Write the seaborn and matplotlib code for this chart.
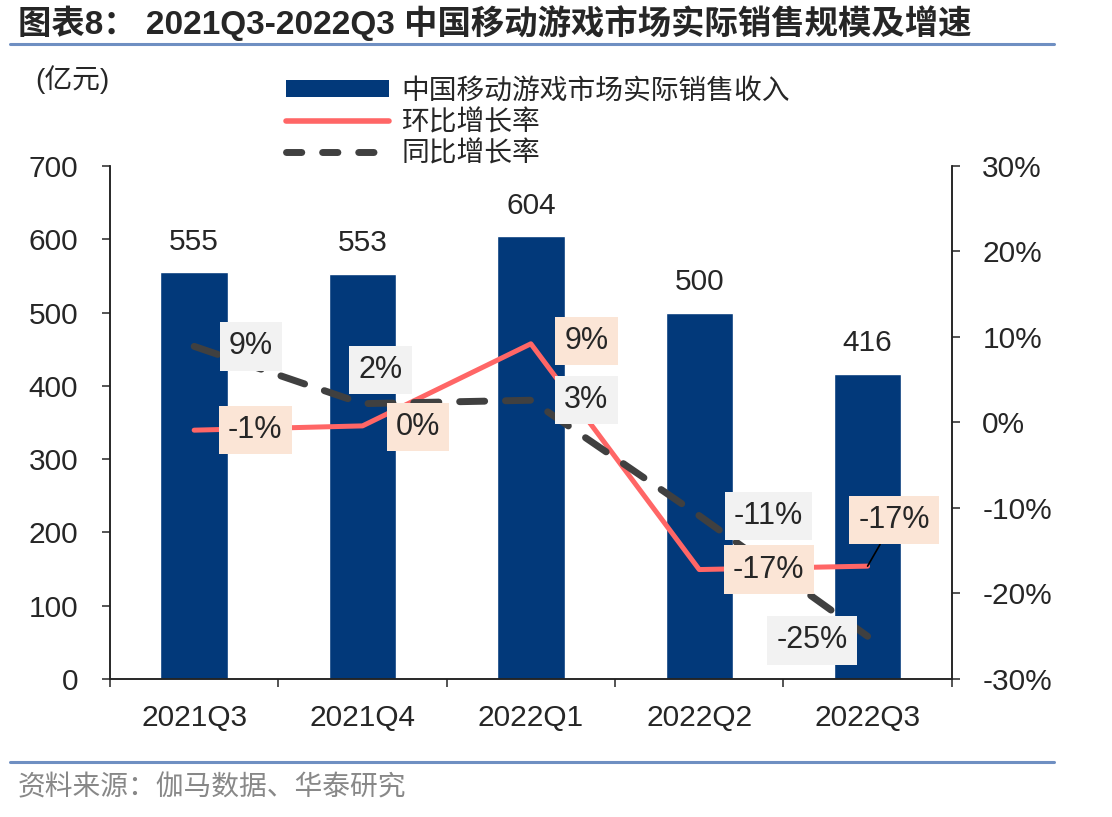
import numpy as np
import pandas as pd
import seaborn as sns
import matplotlib.pyplot as plt
from matplotlib.patches import Patch
from matplotlib.lines import Line2D

quarters = ["2021Q3", "2021Q4", "2022Q1", "2022Q2", "2022Q3"]
revenue = [555, 553, 604, 500, 416]
qoq = [-0.9, -0.4, 9.2, -17.2, -16.8]
yoy = [8.9, 2.2, 2.6, -10.9, -25.0]
qoq_labels = ["-1%", "0%", "9%", "-17%", "-17%"]
yoy_labels = ["9%", "2%", "3%", "-11%", "-25%"]

# label box offsets in points (dx, dy) from the data point
qoq_offsets = [(44, 0), (40, -1), (40, 2), (50, 0), (19, 33)]
yoy_offsets = [(41, 0), (13, 24), (40, 0), (50, 0), (-40, -3)]

bar_color = "#02397A"
red = "#FF6666"
dark = "#404040"

sns.set_theme(style="ticks")
plt.rcParams["font.family"] = ["Liberation Sans", "Noto Sans CJK SC"]
plt.rcParams["axes.linewidth"] = 1.1
plt.rcParams["axes.edgecolor"] = "#222222"

fig = plt.figure(figsize=(11.12, 8.17), dpi=100)
ax = fig.add_axes([0.0989, 0.1689, 0.757, 0.628])

df = pd.DataFrame({"quarter": quarters, "revenue": revenue})
sns.barplot(data=df, x="quarter", y="revenue", color=bar_color, width=0.4,
            saturation=1, ax=ax)
ax.bar_label(ax.containers[0], labels=[str(v) for v in revenue],
             padding=12, fontsize=21.5)

ax.set_ylim(0, 700)
ax.set_yticks(range(0, 701, 100))
ax.set_xlim(-0.5, 4.5)
ax.set_xlabel("")
ax.set_ylabel("")
ax.tick_params(axis="y", labelsize=21.5, length=6, width=1.1, pad=17)
ax.tick_params(axis="x", which="major", labelsize=21.5, length=0, pad=18)
ax.set_xticks(np.arange(-0.5, 5, 1), minor=True)
ax.tick_params(axis="x", which="minor", length=6, width=1.1)
ax.spines["top"].set_visible(False)

ax2 = ax.twinx()
pos = np.arange(len(quarters))
sns.lineplot(x=pos, y=qoq, color=red, lw=3.6, ax=ax2, solid_capstyle="round")
sns.lineplot(x=pos, y=yoy, color=dark, lw=5, ax=ax2)
ax2.lines[-1].set_dashes([3.6, 3.0])
ax2.lines[-1].set_dash_capstyle("round")
ax2.set_ylim(-30, 30)
ax2.set_yticks(range(-30, 31, 10))
ax2.set_yticklabels([f"{v}%" for v in range(-30, 31, 10)])
ax2.tick_params(axis="y", labelsize=21.5, length=6, width=1.1, pad=16)
ax2.spines["top"].set_visible(False)
ax2.set_xlim(-0.5, 4.5)

for i in range(len(quarters)):
    ax2.annotate(yoy_labels[i], (pos[i], yoy[i]), xytext=yoy_offsets[i],
                 textcoords="offset points", ha="center", va="center",
                 fontsize=22, zorder=10,
                 bbox=dict(boxstyle="square,pad=0.3", fc="#F2F2F2", ec="none"))
    arrow = None
    if i == 4:
        arrow = dict(arrowstyle="-", color="black", lw=1.2, shrinkA=0, shrinkB=0)
    ax2.annotate(qoq_labels[i], (pos[i], qoq[i]), xytext=qoq_offsets[i],
                 textcoords="offset points", ha="center", va="center",
                 fontsize=22, zorder=10, arrowprops=arrow,
                 bbox=dict(boxstyle="square,pad=0.3", fc="#FBE5D6", ec="none"))

fig.text(0.032, 0.903, "(亿元)", fontsize=20, va="center")

handles = [
    Patch(facecolor=bar_color, edgecolor="none"),
    Line2D([], [], color=red, lw=4, solid_capstyle="round"),
    Line2D([], [], color=dark, lw=5, dashes=[2.2, 3], dash_capstyle="round"),
]
names = ["中国移动游戏市场实际销售收入", "环比增长率", "同比增长率"]
fig.legend(handles, names, loc="upper left", bbox_to_anchor=(0.247, 0.921),
           frameon=False, handlelength=3.7, handleheight=0.55,
           labelspacing=0.05, handletextpad=0.45, borderaxespad=0,
           prop={"family": ["Noto Sans CJK SC"], "size": 20})

fig.text(0.016, 0.972, "图表8： 2021Q3-2022Q3 中国移动游戏市场实际销售规模及增速",
         fontsize=24, fontweight="bold", va="center",
         family=["Liberation Sans", "Noto Sans CJK SC"])
line_col = "#6F8FC2"
fig.add_artist(Line2D([0.009, 0.948], [0.946, 0.946], color=line_col, lw=2.2))
fig.add_artist(Line2D([0.009, 0.948], [0.067, 0.067], color=line_col, lw=2.2))
fig.text(0.016, 0.036, "资料来源：伽马数据、华泰研究", fontsize=20, color="#888888",
         va="center", family=["Noto Sans CJK SC"])

fig.savefig("out.png", dpi=100)
